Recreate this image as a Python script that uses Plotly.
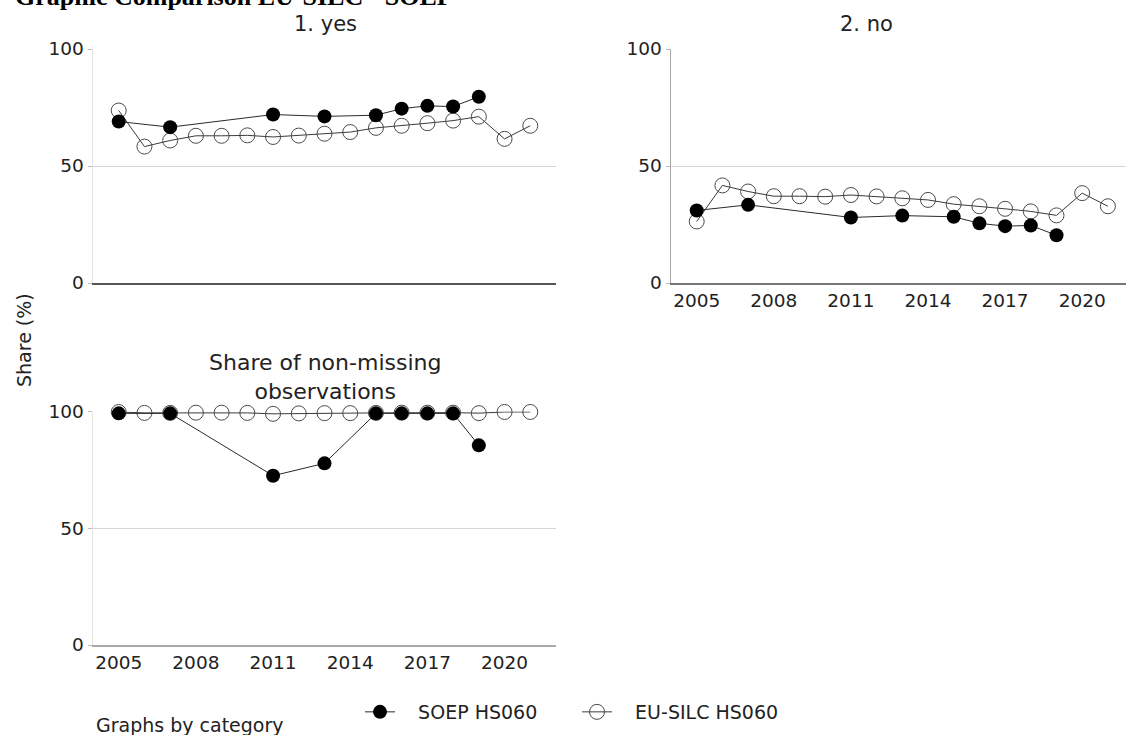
import plotly.graph_objects as go

W, H = 1126, 735

years = list(range(2005, 2022))
soep_years = [2005, 2007, 2011, 2013, 2015, 2016, 2017, 2018, 2019]

soep_yes = [69.0, 66.6, 72.0, 71.2, 71.7, 74.5, 75.7, 75.4, 79.6]
silc_yes = [73.7, 58.3, 60.9, 62.9, 62.9, 63.1, 62.4, 63.0, 63.8, 64.5, 66.3, 67.2, 68.3, 69.4, 71.1, 61.6, 67.2]

soep_no = [31.0, 33.4, 28.0, 28.8, 28.3, 25.5, 24.3, 24.6, 20.4]
silc_no = [26.3, 41.7, 39.1, 37.1, 37.1, 36.9, 37.6, 37.0, 36.2, 35.5, 33.7, 32.8, 31.7, 30.6, 28.9, 38.4, 32.8]

soep_nm = [99.2, 99.2, 72.5, 77.8, 99.2, 99.2, 99.2, 99.2, 85.5]
silc_nm = [99.8, 99.4, 99.4, 99.5, 99.5, 99.4, 99.0, 99.2, 99.3, 99.3, 99.4, 99.5, 99.5, 99.5, 99.3, 99.8, 99.8]

panel_titles = ["1. yes", "2. no"]
nm_title = "Share of non-missing<br>observations"
series_names = ["SOEP HS060", "EU-SILC HS060"]
x_ticks = [2005, 2008, 2011, 2014, 2017, 2020]
y_ticks = [0, 50, 100]

FONT = "DejaVu Sans"
NB = "\u00a0\u00a0\u00a0"

def px_x(p):
    return p / W

def px_y(p):
    return 1 - p / H

fig = go.Figure()

panels = [
    (silc_yes, soep_yes, "x", "y"),
    (silc_no, soep_no, "x2", "y2"),
    (silc_nm, soep_nm, "x3", "y3"),
]
for i, (silc, soep, xa, ya) in enumerate(panels):
    fig.add_trace(go.Scatter(
        x=years, y=silc, xaxis=xa, yaxis=ya, mode="lines+markers",
        name=NB + series_names[1], showlegend=(i == 0), legendrank=2,
        line=dict(color="#3a3a3a", width=1),
        marker=dict(symbol="circle-open", size=15, color="#4a4a4a", line=dict(width=1)),
        cliponaxis=False, hoverinfo="skip",
    ))
    fig.add_trace(go.Scatter(
        x=soep_years, y=soep, xaxis=xa, yaxis=ya, mode="lines+markers",
        name=NB + series_names[0], showlegend=(i == 0), legendrank=1,
        line=dict(color="#2a2a2a", width=1),
        marker=dict(symbol="circle", size=14, color="black"),
        cliponaxis=False, hoverinfo="skip",
    ))

tickfont = dict(family=FONT, size=18.5, color="#222")

def xaxis(domain, rng, show_labels, linecolor, anchor):
    return dict(
        domain=domain, range=rng, tickvals=x_ticks, showticklabels=show_labels,
        tickfont=tickfont, showgrid=False, zeroline=False,
        showline=True, linecolor=linecolor, linewidth=1.5,
        ticks="", fixedrange=True, automargin=False, anchor=anchor,
    )

def yaxis(domain, anchor, linecolor):
    return dict(
        domain=domain, range=[0, 100], tickvals=y_ticks, tickfont=tickfont,
        showgrid=True, gridcolor="#d6d6d6", gridwidth=1, zeroline=False,
        showline=True, linecolor=linecolor, linewidth=1.5,
        ticks="outside", ticklen=4, tickcolor="#bbbbbb", anchor=anchor,
        fixedrange=True, automargin=False,
    )

left_dom = [px_x(93), px_x(556)]
right_dom = [px_x(671), 1.0]
top_dom = [px_y(283), px_y(49)]
bot_dom = [px_y(645), px_y(411.5)]

fig.update_layout(
    width=W, height=H,
    margin=dict(l=0, r=0, t=0, b=0, autoexpand=False),
    paper_bgcolor="white", plot_bgcolor="white",
    font=dict(family=FONT, color="#222"),
    xaxis=xaxis(left_dom, [2004, 2022], False, "#555555", "y"),
    yaxis=yaxis(top_dom, "x", "#e2e2e2"),
    xaxis2=xaxis(right_dom, [2004, 2004 + (W - 671) / 25.7], True, "#777777", "y2"),
    yaxis2=yaxis(top_dom, "x2", "#a8a8a8"),
    xaxis3=xaxis(left_dom, [2004, 2022], True, "#aaaaaa", "y3"),
    yaxis3=yaxis(bot_dom, "x3", "#e2e2e2"),
    showlegend=True,
    legend=dict(
        orientation="h", x=px_x(360), y=px_y(712), xanchor="left", yanchor="middle",
        font=dict(family=FONT, size=19, color="#222"),
        bgcolor="rgba(0,0,0,0)", entrywidth=172, traceorder="normal",
    ),
)

annotations = [
    dict(text="<b>Graphic Comparison EU-SILC - SOEP</b>", x=px_x(13), y=px_y(-3),
         xanchor="left", yanchor="middle",
         font=dict(family="Liberation Serif", size=26, color="black")),
    dict(text=panel_titles[0], x=px_x(325), y=px_y(24), xanchor="center", yanchor="middle",
         font=dict(family=FONT, size=21, color="#222")),
    dict(text=panel_titles[1], x=px_x(866), y=px_y(24), xanchor="center", yanchor="middle",
         font=dict(family=FONT, size=21, color="#222")),
    dict(text=nm_title, x=px_x(325), y=px_y(377), xanchor="center", yanchor="middle",
         font=dict(family=FONT, size=22, color="#222")),
    dict(text="Share (%)", x=px_x(24), y=px_y(340), xanchor="center", yanchor="middle",
         textangle=-90, font=dict(family=FONT, size=19, color="#222")),
    dict(text="Graphs by category", x=px_x(94), y=px_y(725), xanchor="left", yanchor="middle",
         font=dict(family=FONT, size=19, color="#222")),
]
for a in annotations:
    a.update(xref="paper", yref="paper", showarrow=False)
fig.update_layout(annotations=annotations)

fig.write_html(
    "out.html",
    config={"displayModeBar": False, "staticPlot": True},
    post_script="document.body.style.margin='0px';document.body.style.overflow='hidden';",
)
